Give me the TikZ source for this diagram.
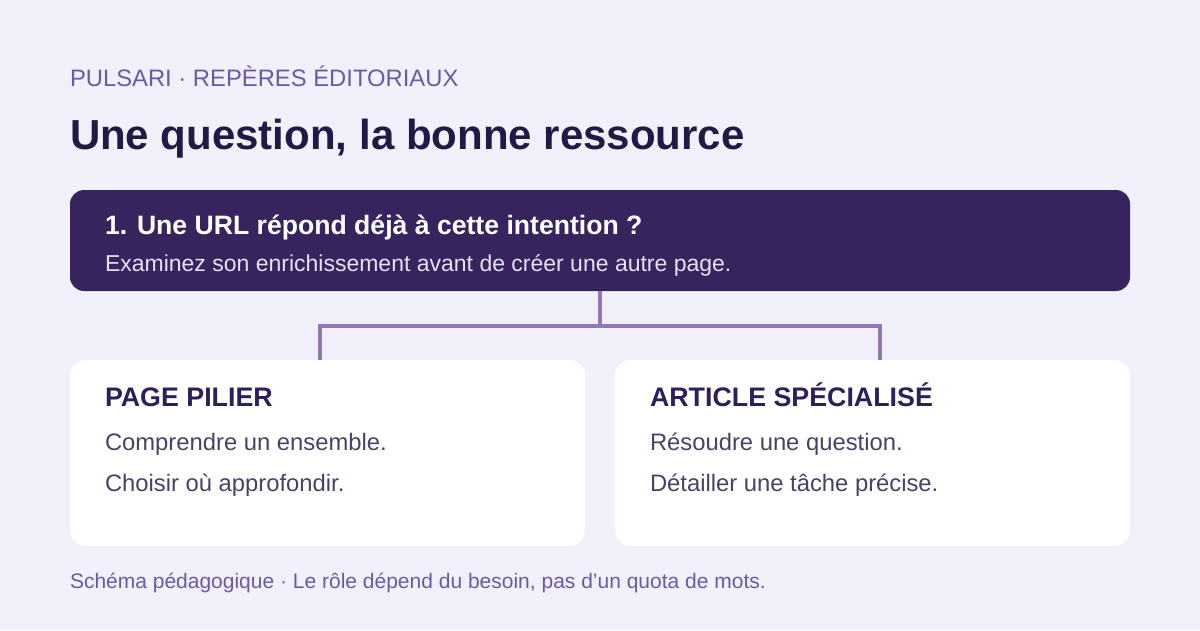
\documentclass[tikz,border=0pt]{standalone}
\usepackage{fontspec}
\setmainfont{Liberation Sans}
\definecolor{bgc}{HTML}{F2F0FB}
\definecolor{kicker}{HTML}{6A5AA6}
\definecolor{titlec}{HTML}{221A45}
\definecolor{darkbox}{HTML}{37245F}
\definecolor{subc}{HTML}{E6E1F4}
\definecolor{linec}{HTML}{9179B6}
\definecolor{cardtitle}{HTML}{2D1E5C}
\definecolor{bodyc}{HTML}{4A4166}
\begin{document}
\begin{tikzpicture}[x=1pt,y=-1pt,
  txt/.style={anchor=base west, inner sep=0pt, outer sep=0pt},
  kick/.style={txt, font=\fontsize{23.8}{28}\selectfont, text=kicker},
  ttl/.style={txt, font=\fontsize{42}{48}\selectfont\bfseries, text=titlec},
  qline/.style={txt, font=\fontsize{26.6}{30}\selectfont\bfseries, text=white},
  qsub/.style={txt, font=\fontsize{23}{27}\selectfont, text=subc},
  ctitle/.style={txt, font=\fontsize{26.8}{30}\selectfont\bfseries, text=cardtitle},
  cbody/.style={txt, font=\fontsize{23.8}{28}\selectfont, text=bodyc},
  foot/.style={txt, font=\fontsize{21}{25}\selectfont, text=kicker},
  card/.style={fill=white, rounded corners=16pt},
  conn/.style={draw=linec, line width=3.5pt}
]
\fill[bgc] (0,0) rectangle (1200,630);
\useasboundingbox (0,0) rectangle (1200,630);

\node[kick] (kicker) at (70,86) {PULSARI · REPÈRES ÉDITORIAUX};
\node[ttl] (title) at (70,149) {Une question, la bonne ressource};

\fill[darkbox, rounded corners=14pt] (70,190) rectangle (1130,291);
\coordinate (qb) at (600,291);
\node[qline] (q1) at (105,234) {1. Une URL répond déjà à cette intention ?};
\node[qsub] (q2) at (105,271) {Examinez son enrichissement avant de créer une autre page.};

\fill[card] (70,360) rectangle (585,546);
\fill[card] (615,360) rectangle (1130,546);
\coordinate (lt) at (320,360);
\coordinate (rt) at (880,360);

\draw[conn] (qb) -- (600,326);
\draw[conn] (lt) -- (320,326) -- (880,326) -- (rt);

\node[ctitle] (t1) at (105,406) {PAGE PILIER};
\node[cbody] (b11) at (105,450) {Comprendre un ensemble.};
\node[cbody] (b12) at (105,491) {Choisir où approfondir.};

\node[ctitle] (t2) at (650,406) {ARTICLE SPÉCIALISÉ};
\node[cbody] (b21) at (650,450) {Résoudre une question.};
\node[cbody] (b22) at (650,491) {Détailler une tâche précise.};

\node[foot] (footer) at (70,588) {Schéma pédagogique · Le rôle dépend du besoin, pas d’un quota de mots.};
\end{tikzpicture}
\end{document}
